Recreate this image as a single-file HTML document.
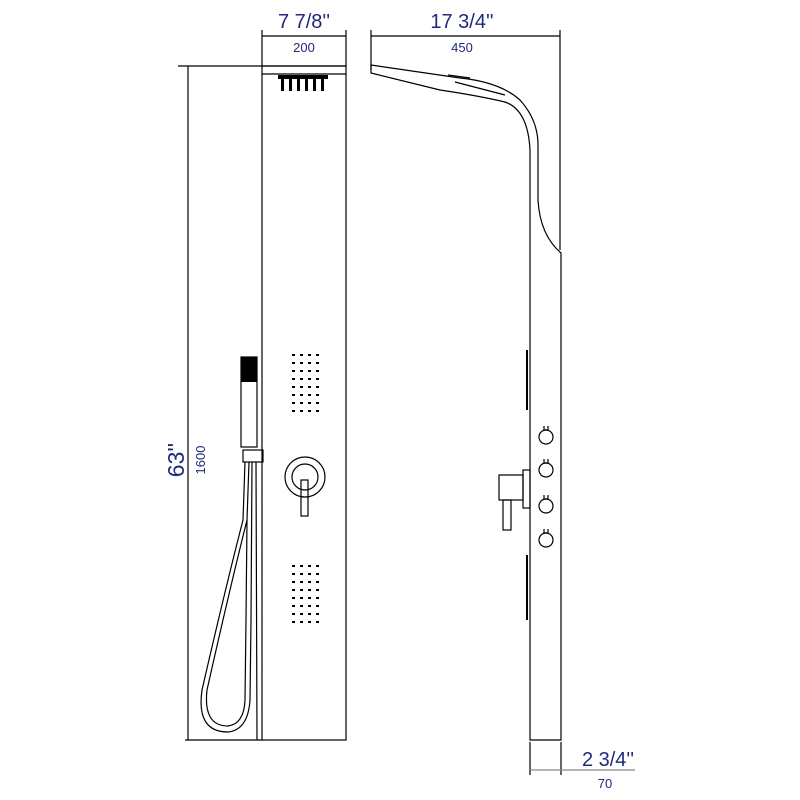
<!DOCTYPE html>
<html><head><style>
html,body{margin:0;padding:0;background:#fff;}
svg{display:block;}
text{font-family:"Liberation Sans",sans-serif;fill:#1f2a7a;}
</style></head><body>
<svg width="800" height="800" viewBox="0 0 800 800" xmlns="http://www.w3.org/2000/svg">
<g stroke="#000" stroke-width="1.2" fill="none">
<line x1="262" y1="30" x2="262" y2="66"/>
<line x1="346" y1="30" x2="346" y2="66"/>
<line x1="262" y1="36" x2="346" y2="36"/>
<line x1="178" y1="66" x2="346" y2="66"/>
<line x1="185" y1="740" x2="262" y2="740"/>
<line x1="188" y1="66" x2="188" y2="740"/>
<rect x="262" y="66" width="84" height="674"/>
<line x1="262" y1="74" x2="346" y2="74"/>
<line x1="371" y1="30" x2="371" y2="70"/>
<line x1="560" y1="30" x2="560" y2="250"/>
<line x1="371" y1="36" x2="560" y2="36"/>
<path d="M371,65 L460,78 Q500,82 520,100 Q538,120 538,145 L538,200 Q540,235 561,253 L561,740 L530,740 L530,150 Q528,110 505,102 Q480,96 440,90 L371,73 Z"/>
<path d="M448,75 L470,78 M455,82 L505,95"/>
<line x1="530" y1="742" x2="530" y2="775"/>
<line x1="561" y1="742" x2="561" y2="775"/>
<line x1="530" y1="770" x2="635" y2="770" stroke="#888"/>
<rect x="241" y="357" width="16" height="90"/>
<rect x="243" y="450" width="20" height="12"/>
<path d="M245,462 L243,520 Q225,590 202,690 Q196,732 228,732 Q248,730 250,700 L251,620 L252,462"/>
<path d="M249,462 L247,520 Q229,592 207,690 Q203,726 228,726 Q244,724 245,700 L246,620 L247,520"/>
<line x1="256" y1="462" x2="257" y2="740"/>
<circle cx="305" cy="477" r="20"/>
<circle cx="305" cy="477" r="13"/>
<rect x="301" y="480" width="7" height="36"/>
<rect x="499" y="475" width="24" height="25"/>
<rect x="503" y="500" width="8" height="30"/>
<rect x="523" y="470" width="7" height="38"/>
<circle cx="546" cy="437" r="7"/>
<circle cx="546" cy="470" r="7"/>
<circle cx="546" cy="506" r="7"/>
<circle cx="546" cy="540" r="7"/>
<path d="M544,426 v4 h4 v-4 M544,459 v4 h4 v-4 M544,495 v4 h4 v-4 M544,529 v4 h4 v-4"/>
</g>
<g fill="#000">
<rect x="278" y="75" width="50" height="4"/>
<rect x="281" y="78" width="3" height="13"/><rect x="289" y="78" width="3" height="13"/><rect x="297" y="78" width="3" height="13"/><rect x="305" y="78" width="3" height="13"/><rect x="313" y="78" width="3" height="13"/><rect x="321" y="78" width="3" height="13"/>
<rect x="241" y="357" width="16" height="25"/>
</g>
<g fill="#000">
<g id="dots">
<rect x="292" y="354" width="3" height="2"/><rect x="300" y="354" width="3" height="2"/><rect x="308" y="354" width="3" height="2"/><rect x="316" y="354" width="3" height="2"/>
<rect x="292" y="362" width="3" height="2"/><rect x="300" y="362" width="3" height="2"/><rect x="308" y="362" width="3" height="2"/><rect x="316" y="362" width="3" height="2"/>
<rect x="292" y="370" width="3" height="2"/><rect x="300" y="370" width="3" height="2"/><rect x="308" y="370" width="3" height="2"/><rect x="316" y="370" width="3" height="2"/>
<rect x="292" y="378" width="3" height="2"/><rect x="300" y="378" width="3" height="2"/><rect x="308" y="378" width="3" height="2"/><rect x="316" y="378" width="3" height="2"/>
<rect x="292" y="386" width="3" height="2"/><rect x="300" y="386" width="3" height="2"/><rect x="308" y="386" width="3" height="2"/><rect x="316" y="386" width="3" height="2"/>
<rect x="292" y="394" width="3" height="2"/><rect x="300" y="394" width="3" height="2"/><rect x="308" y="394" width="3" height="2"/><rect x="316" y="394" width="3" height="2"/>
<rect x="292" y="402" width="3" height="2"/><rect x="300" y="402" width="3" height="2"/><rect x="308" y="402" width="3" height="2"/><rect x="316" y="402" width="3" height="2"/>
<rect x="292" y="410" width="3" height="2"/><rect x="300" y="410" width="3" height="2"/><rect x="308" y="410" width="3" height="2"/><rect x="316" y="410" width="3" height="2"/>
</g>
<use href="#dots" y="211"/>
<rect x="526" y="350" width="2" height="60"/>
<rect x="526" y="555" width="2" height="65"/>
</g>
<text x="304" y="28" font-size="20" text-anchor="middle">7 7/8''</text>
<text x="304" y="52" font-size="13" text-anchor="middle">200</text>
<text x="462" y="28" font-size="20" text-anchor="middle">17 3/4''</text>
<text x="462" y="52" font-size="13" text-anchor="middle">450</text>
<text x="608" y="766" font-size="20" text-anchor="middle">2 3/4''</text>
<text x="605" y="788" font-size="13" text-anchor="middle">70</text>
<text transform="translate(184,460) rotate(-90)" font-size="23" text-anchor="middle">63''</text>
<text transform="translate(205,460) rotate(-90)" font-size="13" text-anchor="middle">1600</text>
</svg>
</body></html>
